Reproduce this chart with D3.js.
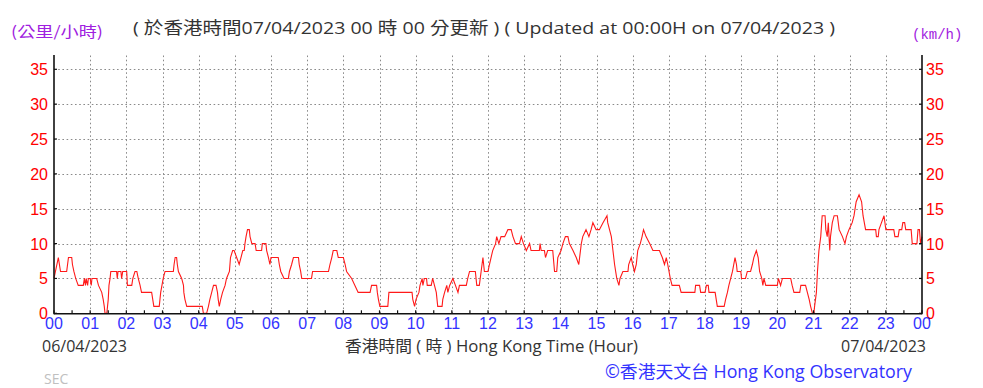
<!DOCTYPE html>
<html><head><meta charset="utf-8">
<script src="https://cdn.jsdelivr.net/npm/d3@7/dist/d3.min.js"></script>
<style>
html,body{margin:0;padding:0;background:#fff;}
svg{display:block;}
</style></head>
<body>
<svg id="chart" width="983" height="388"></svg>
<script>
// ---- data: wind speed (km/h) vs Hong Kong time (decimal hours from 00:00, 06/04/2023)
const hours = [0.00,0.04,0.12,0.18,0.35,0.40,0.49,0.51,0.55,0.60,0.67,0.81,0.84,0.87,0.89,0.93,0.95,1.00,1.03,1.05,1.18,1.23,1.32,1.36,1.39,1.41,1.46,1.48,1.50,1.52,1.55,1.57,1.73,1.75,1.77,1.85,1.87,1.90,2.01,2.03,2.15,2.18,2.24,2.29,2.33,2.38,2.42,2.70,2.73,2.76,2.91,2.93,2.95,3.02,3.07,3.30,3.32,3.35,3.39,3.41,3.44,3.53,3.58,3.59,3.62,3.67,4.10,4.13,4.22,4.27,4.31,4.36,4.41,4.48,4.52,4.54,4.57,4.61,4.66,4.73,4.77,4.85,4.88,4.94,4.98,5.05,5.12,5.17,5.22,5.26,5.28,5.31,5.35,5.40,5.42,5.47,5.56,5.59,5.74,5.76,5.86,5.88,5.93,5.97,6.00,6.20,6.23,6.27,6.36,6.48,6.51,6.57,6.62,6.76,6.78,6.82,6.85,7.12,7.15,7.59,7.63,7.68,7.72,7.82,7.86,8.00,8.05,8.09,8.23,8.32,8.41,8.74,8.78,8.92,8.94,8.97,9.01,9.23,9.26,9.90,9.92,9.97,10.01,10.09,10.12,10.18,10.20,10.24,10.30,10.32,10.43,10.47,10.52,10.57,10.61,10.73,10.75,10.80,10.86,10.89,10.94,11.03,11.10,11.17,11.21,11.40,11.44,11.49,11.65,11.69,11.76,11.81,11.86,11.90,12.00,12.04,12.13,12.21,12.24,12.30,12.36,12.46,12.55,12.64,12.69,12.76,12.87,12.92,12.98,13.06,13.15,13.19,13.42,13.44,13.47,13.56,13.59,13.65,13.79,13.84,13.90,13.93,14.02,14.07,14.14,14.21,14.25,14.35,14.44,14.51,14.58,14.62,14.71,14.79,14.85,14.90,14.99,15.08,15.18,15.29,15.31,15.41,15.50,15.56,15.62,15.65,15.73,15.87,15.89,15.96,16.00,16.05,16.10,16.14,16.21,16.26,16.30,16.37,16.47,16.56,16.74,16.82,16.88,16.93,16.97,17.04,17.09,17.29,17.34,17.72,17.74,17.85,17.88,18.00,18.04,18.09,18.11,18.28,18.31,18.34,18.53,18.57,18.62,18.66,18.71,18.76,18.83,18.87,18.89,18.99,19.01,19.12,19.17,19.26,19.31,19.35,19.42,19.47,19.51,19.57,19.60,19.63,19.68,20.00,20.03,20.09,20.14,20.37,20.41,20.46,20.62,20.65,20.78,20.83,20.88,20.92,20.97,21.01,21.03,21.08,21.11,21.15,21.20,21.24,21.32,21.34,21.38,21.41,21.45,21.47,21.52,21.57,21.66,21.71,21.80,21.87,21.91,21.98,22.07,22.12,22.18,22.26,22.33,22.37,22.44,22.72,22.74,22.79,22.81,22.88,22.95,23.00,23.22,23.25,23.34,23.37,23.44,23.47,23.52,23.55,23.70,23.73,23.86,23.89,23.93,23.96,24.00];
const speeds = [5,6,8,6,6,8,8,7,6,5,4,4,5,4,5,4,5,5,4,5,5,4,3,2,1,0,0,1,2,4,5,6,6,5,6,6,5,6,6,4,4,5,6,6,5,4,3,3,2,1,1,2,3,5,6,6,7,8,8,7,6,5,4,3,2,1,1,0,0,1,2,3,4,4,3,2,1,2,3,4,5,6,8,9,9,8,7,8,9,9,10,11,12,12,11,10,10,9,9,10,10,9,8,7,8,8,7,6,5,5,6,7,8,8,7,6,5,5,6,6,7,8,9,9,8,8,7,6,5,4,3,3,4,4,3,2,1,1,3,3,2,1,2,3,4,5,4,5,5,4,4,5,4,3,1,1,2,3,4,3,4,5,4,3,4,4,5,6,6,4,4,6,8,6,6,7,9,10,11,10,11,11,12,12,11,10,10,11,10,9,10,9,9,10,9,9,8,9,9,6,6,8,9,10,11,11,10,9,8,7,10,11,12,11,12,13,12,12,13,14,13,11,7,5,4,5,6,6,7,8,7,6,7,9,10,11,12,11,10,9,9,8,7,8,7,5,4,4,3,3,4,4,3,3,4,4,3,3,2,1,1,2,3,4,5,6,8,7,6,6,5,5,6,6,7,8,9,8,6,5,4,5,4,4,5,4,5,5,4,3,3,4,4,3,2,1,0,0,1,3,6,9,11,14,14,12,11,13,9,11,13,14,14,12,11,10,11,12,13,14,16,17,16,14,12,12,11,11,12,13,14,12,12,11,11,12,12,13,13,12,12,10,10,12,12,10,11];
const hourLabels = ["00","01","02","03","04","05","06","07","08","09","10","11","12","13","14","15","16","17","18","19","20","21","22","23","00"];
const yTicks = [0,5,10,15,20,25,30,35];
const titleText = "( 於香港時間07/04/2023 00 時 00 分更新 ) ( Updated at 00:00H on 07/04/2023 )";
const unitLeft = "(公里/小時)";
const unitRight = "(km/h)";
const dateStart = "06/04/2023";
const dateEnd = "07/04/2023";
const axisTitle = "香港時間 ( 時 ) Hong Kong Time (Hour)";
const credit = "©香港天文台 Hong Kong Observatory";
const station = "SEC";

const svg = d3.select("#chart");
const L = 54, R = 922, B = 313.3, T = 55;
const x = d3.scaleLinear().domain([0, 24]).range([L, R]);
const y = d3.scaleLinear().domain([0, 35]).range([B, 69.3]);
const CJK = "'Noto Sans CJK TC','Noto Sans CJK SC'";

// grid
const grid = svg.append("g").attr("stroke", "#8a8a8a").attr("stroke-width", 1).attr("stroke-dasharray", "1.6,2.6");
grid.selectAll(".hg").data(yTicks.filter(d => d > 0)).join("line")
  .attr("x1", L).attr("x2", R).attr("y1", d => Math.round(y(d)) + 0.5).attr("y2", d => Math.round(y(d)) + 0.5);
grid.selectAll(".vg").data(d3.range(1, 24)).join("line")
  .attr("x1", d => Math.round(x(d)) + 0.5).attr("x2", d => Math.round(x(d)) + 0.5).attr("y1", B).attr("y2", T);

// line
const pts = hours.map((h, i) => [h, speeds[i]]);
svg.append("path").datum(pts)
  .attr("fill", "none").attr("stroke", "#ff1a1a").attr("stroke-width", 1.1)
  .attr("d", d3.line().x(d => x(d[0])).y(d => y(d[1])));

// axes
const ax = svg.append("g").attr("stroke", "#111").attr("stroke-width", 1.6).attr("fill", "none");
ax.append("line").attr("x1", L).attr("x2", L).attr("y1", T).attr("y2", B + 1);
ax.append("line").attr("x1", R).attr("x2", R).attr("y1", T).attr("y2", B + 1);
ax.append("line").attr("x1", L).attr("x2", R).attr("y1", B + 0.5).attr("y2", B + 0.5);
const tk = svg.append("g").attr("stroke", "#111").attr("stroke-width", 1.2);
tk.selectAll(".lt").data(yTicks).join("line").attr("x1", L).attr("x2", L + 3).attr("y1", d => y(d)).attr("y2", d => y(d));
tk.selectAll(".rt").data(yTicks).join("line").attr("x1", R - 3).attr("x2", R).attr("y1", d => y(d)).attr("y2", d => y(d));
tk.selectAll(".bt").data(d3.range(0, 24.01, 0.5)).join("line")
  .attr("x1", d => x(d)).attr("x2", d => x(d)).attr("y1", B).attr("y2", B - 3);

// y labels
const yl = svg.append("g").attr("fill", "#ff0000").attr("font-family", "'Liberation Sans Narrow','Liberation Sans',sans-serif").attr("font-size", 16);
yl.selectAll(".ly").data(yTicks).join("text").attr("x", L - 6).attr("y", d => y(d) + 6).attr("text-anchor", "end").text(d => d);
yl.selectAll(".ry").data(yTicks).join("text").attr("x", R + 4).attr("y", d => y(d) + 6).attr("text-anchor", "start").text(d => d);

// x labels
svg.append("g").attr("fill", "#3333ff").attr("font-family", "'Liberation Sans',sans-serif").attr("font-size", 16)
  .selectAll("text").data(hourLabels).join("text")
  .attr("x", (d, i) => x(i)).attr("y", 329).attr("text-anchor", "middle").text(d => d);

// texts
const txt = (s, xx, yy, opts) => {
  const t = svg.append("text").attr("x", xx).attr("y", yy).text(s)
    .attr("font-family", opts.ff || `'Open Sans',${CJK},sans-serif`).attr("font-size", opts.fs || 15)
    .attr("fill", opts.fill || "#333").attr("text-anchor", opts.anchor || "start");
  if (opts.len) t.attr("textLength", opts.len).attr("lengthAdjust", "spacingAndGlyphs");
  return t;
};
txt(titleText, 133, 34, {fs: 17, fill: "#333", len: 702});
txt(unitLeft, 11, 37, {fs: 15, fill: "#a020e0", ff: `${CJK},sans-serif`, len: 92});
txt(unitRight, 912, 39, {fs: 14, fill: "#a020e0", ff: "'Liberation Mono',monospace"});
txt(dateStart, 42, 352, {fs: 16, fill: "#333", len: 85});
txt(dateEnd, 926, 352, {fs: 16, fill: "#333", anchor: "end", len: 85});
txt(axisTitle, 345, 352, {fs: 16, fill: "#333", len: 293});
txt(station, 44, 384, {fs: 14, fill: "#c0c0c0"});
txt(credit, 605, 378, {fs: 17.5, fill: "#3333ff", len: 307});
</script>
</body></html>
